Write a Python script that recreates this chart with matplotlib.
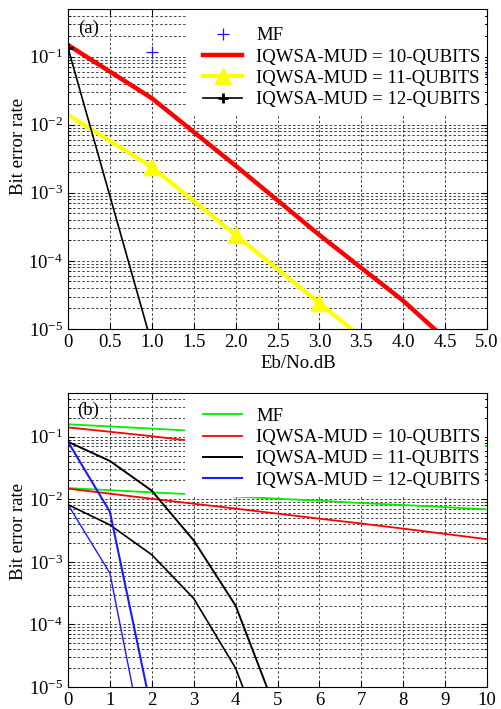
import matplotlib.pyplot as plt
from matplotlib.patches import Rectangle
from matplotlib.ticker import LogLocator, NullFormatter, LogFormatterMathtext

plt.rcParams['font.family'] = ['Liberation Serif', 'DejaVu Serif']
plt.rcParams['mathtext.fontset'] = 'custom'
plt.rcParams['mathtext.rm'] = 'Liberation Serif'
plt.rcParams['mathtext.default'] = 'regular'

# ---- panel (a) data ----
snr_a = [0, 1, 2, 3, 4, 5]
snr_mf_a = [1, 2, 3, 4, 5]
mf_a = [0.115, 0.096, 0.080, 0.067, 0.056]
q10_a = [0.148, 0.0245, 0.0025, 2.4e-4, 2.6e-5, 2.0e-6]
q11_a = [0.0139, 0.0024, 2.4e-4, 2.4e-5, 2.4e-6, 2.4e-7]
snr_q12_a = [0, 1]
q12_a = [0.134, 6.0e-6]
xticks_a = [0, 0.5, 1.0, 1.5, 2.0, 2.5, 3.0, 3.5, 4.0, 4.5, 5.0]
xticklabels_a = ['0', '0.5', '1.0', '1.5', '2.0', '2.5', '3.0', '3.5', '4.0', '4.5', '5.0']

# ---- panel (b) data ----
snr_b = [0, 1, 2, 3, 4, 5, 6, 7, 8, 9, 10]
mf_up = [0.158, 0.146, 0.135, 0.124, 0.115, 0.106, 0.098, 0.090, 0.083, 0.077, 0.071]
mf_lo = [0.0151, 0.0140, 0.0129, 0.0120, 0.0111, 0.0102, 0.0095, 0.0087, 0.0081, 0.0075, 0.0069]
q10_up = [0.141, 0.120, 0.102, 0.085, 0.072, 0.060, 0.051, 0.044, 0.036, 0.031, 0.025]
q10_lo = [0.0148, 0.0123, 0.0102, 0.0085, 0.0071, 0.0059, 0.0049, 0.0041, 0.0034, 0.0028, 0.0023]
snr_q11 = [0, 1, 2, 3, 4, 5]
q11_up = [0.083, 0.041, 0.0137, 0.0022, 2.0e-4, 3.6e-6]
q11_lo = [0.0082, 0.0039, 0.0013, 2.6e-4, 2.0e-5, 3.5e-7]
snr_q12 = [0, 1, 2]
q12_up = [0.083, 0.0063, 4.0e-6]
q12_lo = [0.0082, 6.6e-4, 2.8e-7]
xticks_b = [0, 1, 2, 3, 4, 5, 6, 7, 8, 9, 10]

labels = ['MF', 'IQWSA-MUD = 10-QUBITS', 'IQWSA-MUD = 11-QUBITS', 'IQWSA-MUD = 12-QUBITS']
FS = 13.5

fig = plt.figure(figsize=(5.02, 7.09), dpi=100)
ax1 = fig.add_axes([68/502, 1-329/709, 419/502, 320/709])
ax2 = fig.add_axes([68/502, 1-687/709, 419/502, 294/709])


def style(ax, xmax):
    ax.set_yscale('log')
    ax.set_ylim(1e-5, 0.5)
    ax.set_xlim(0, xmax)
    ax.yaxis.set_major_locator(LogLocator(base=10, numticks=10))
    ax.yaxis.set_minor_locator(LogLocator(base=10, subs=range(2, 10), numticks=20))
    ax.yaxis.set_major_formatter(LogFormatterMathtext())
    ax.yaxis.set_minor_formatter(NullFormatter())
    ax.grid(True, which='major', axis='both', color='0.15', ls=(0, (3, 2.5)), lw=0.6)
    ax.grid(True, which='minor', axis='y', color='0.15', ls=(0, (3, 2.5)), lw=0.6)
    ax.tick_params(which='both', direction='in', top=True, right=True, labelsize=FS)
    ax.tick_params(which='major', length=4)
    ax.tick_params(which='minor', length=2.5)
    for s in ax.spines.values():
        s.set_linewidth(0.8)


# panel (a)
ax1.plot(snr_mf_a, mf_a, ls='none', marker='+', color='#1a1aff', ms=8, mew=0.9, label=labels[0])
ax1.plot(snr_a, q10_a, color='#ff0000', lw=3.2, label=labels[1])
ax1.plot(snr_a, q11_a, color='#ffff00', lw=3.0, marker='^', ms=11,
         markevery=[1, 2, 3, 4, 5], label=labels[2])
ax1.plot(snr_q12_a, q12_a, color='k', lw=1.2, marker='+', ms=7, mew=2, label=labels[3])
style(ax1, 5)
ax1.set_xticks(xticks_a)
ax1.set_xticklabels(xticklabels_a)
ax1.set_xlabel('Eb/No.dB', fontsize=FS)
ax1.xaxis.set_label_coords(0.55, -0.08)
ax1.set_ylabel('Bit error rate', fontsize=FS)
ax1.yaxis.set_label_coords(-0.098, 0.57)
ax1.text(0.048, 0.94, '(a)', transform=ax1.transAxes, fontsize=FS, ha='center', va='center')
ax1.add_patch(Rectangle((0.284, 0.669), 0.711, 0.327, transform=ax1.transAxes,
                        facecolor='white', edgecolor='none', zorder=4))
ax1.legend(loc='upper left', bbox_to_anchor=(0.322, 0.943), frameon=False, fontsize=FS,
           handlelength=2.1, handletextpad=0.75, labelspacing=0.22, borderpad=0,
           borderaxespad=0).set_zorder(5)

# panel (b)
ax2.plot(snr_b, mf_up, color='#00ee00', lw=1.3, label=labels[0])
ax2.plot(snr_b, mf_lo, color='#00ee00', lw=1.3)
ax2.plot(snr_b, q10_up, color='#ff0000', lw=1.3, label=labels[1])
ax2.plot(snr_b, q10_lo, color='#ff0000', lw=1.3)
ax2.plot(snr_q11, q11_up, color='k', lw=1.4, label=labels[2])
ax2.plot(snr_q11, q11_lo, color='k', lw=1.2)
ax2.plot(snr_q12, q12_up, color='#1a1aff', lw=1.5, label=labels[3])
ax2.plot(snr_q12, q12_lo, color='#1a1aff', lw=1.0)
style(ax2, 10)
ax2.set_xticks(xticks_b)
ax2.set_ylabel('Bit error rate', fontsize=FS)
ax2.yaxis.set_label_coords(-0.098, 0.53)
ax2.text(0.048, 0.942, '(b)', transform=ax2.transAxes, fontsize=FS, ha='center', va='center')
ax2.add_patch(Rectangle((0.279, 0.646), 0.716, 0.35, transform=ax2.transAxes,
                        facecolor='white', edgecolor='none', zorder=4))
ax2.legend(loc='upper left', bbox_to_anchor=(0.322, 0.95), frameon=False, fontsize=FS,
           handlelength=2.1, handletextpad=0.75, labelspacing=0.22, borderpad=0,
           borderaxespad=0).set_zorder(5)

fig.savefig('out.png', dpi=100)
